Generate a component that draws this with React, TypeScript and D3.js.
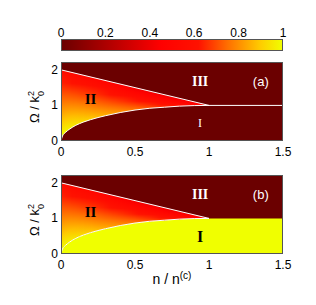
import React from 'react';
import * as d3 from 'd3';

// axis ticks
const nTicks = [0, 0.5, 1, 1.5];
const omegaTicks = [0, 1, 2];
const barTicks = [0, 0.2, 0.4, 0.6, 0.8, 1];

// boundary curves (n / n^(c), Omega / k0^2)
const lowerN = [0, 0.01, 0.03, 0.06, 0.1, 0.15, 0.2, 0.3, 0.4, 0.5, 0.6, 0.7, 0.8, 0.9, 1.0];
const lowerOmega = [0, 0.14, 0.24, 0.34, 0.44, 0.53, 0.6, 0.71, 0.8, 0.87, 0.92, 0.95, 0.98, 0.995, 1.0];
const upperN = [0, 1];
const upperOmega = [2, 1];
const flatN = [1, 1.5];
const flatOmega = [1, 1];

// shading of region II, read at its lower and upper edge
const shadeN = [0, 0.25, 0.5, 0.75, 1];
const shadeLow = [1, 0.88, 0.77, 0.64, 0.45];
const shadeHigh = [0.55, 0.5, 0.42, 0.38, 0.45];

// panels
const panelTags = ['(a)', '(b)'];
const regionIValue = [0, 1];

const W = 316;
const H = 305;
const left = 61;
const right = 283;
const panelTops = [62, 175];
const panelH = 79;

const cmap = d3
  .scaleLinear<string>()
  .domain([0, 0.45, 0.62, 0.75, 0.9, 1])
  .range(['#6b0000', '#ff0000', '#ff1200', '#ff6e00', '#ffcc00', '#f0ff00'])
  .clamp(true);

const sans = 'Liberation Sans, Arial, sans-serif';
const serif = 'Liberation Serif, Times New Roman, serif';

const x = d3.scaleLinear().domain([0, 1.5]).range([left, right]);
const lowerAt = d3.scaleLinear().domain(lowerN).range(lowerOmega);
const upperAt = d3.scaleLinear().domain(upperN).range(upperOmega);
const lowAt = d3.scaleLinear().domain(shadeN).range(shadeLow);
const highAt = d3.scaleLinear().domain(shadeN).range(shadeHigh);

const Panel = ({ idx }: { idx: number }) => {
  const top = panelTops[idx];
  const y = d3.scaleLinear().domain([0, 2.22]).range([top + panelH, top]);
  const pts = lowerN.map((n, i) => [n, lowerOmega[i]] as [number, number]);

  const line = d3
    .line<[number, number]>()
    .x((d) => x(d[0]))
    .y((d) => y(d[1]))
    .curve(d3.curveMonotoneX);

  // region II polygon: along upper line, back along lower curve
  const regionII =
    line(upperN.map((n, i) => [n, upperOmega[i]] as [number, number]))! +
    'L' +
    line(pts.slice().reverse())!.slice(1) +
    'Z';

  const regionI =
    line([...pts, ...flatN.slice(1).map((n, i) => [n, flatOmega[i + 1]] as [number, number])])! +
    `L${x(1.5)},${y(0)}L${x(0)},${y(0)}Z`;

  const x0 = x(0);
  const cols = d3.range(Math.ceil(x(1) - x0) + 1);
  const stops = [0, 0.2, 0.4, 0.6, 0.8, 1];
  const id = `p${idx}`;

  return (
    <g>
      <defs>
        <clipPath id={`${id}-clip2`}>
          <path d={regionII} />
        </clipPath>
        {cols.map((c) => {
          const n = Math.min(1, x.invert(x0 + c + 0.5));
          const yu = y(upperAt(n));
          let yl = y(lowerAt(n));
          if (yl - yu < 1) yl = yu + 1;
          const hi = highAt(n);
          const lo = lowAt(n);
          return (
            <linearGradient
              key={c}
              id={`${id}-g${c}`}
              gradientUnits="userSpaceOnUse"
              x1={0}
              x2={0}
              y1={yu}
              y2={yl}
            >
              {stops.map((t) => (
                <stop key={t} offset={t} stopColor={cmap(hi + (lo - hi) * t)} />
              ))}
            </linearGradient>
          );
        })}
      </defs>
      <rect x={left} y={top} width={right - left} height={panelH} fill={cmap(0)} />
      <path d={regionI} fill={cmap(regionIValue[idx])} />
      <g clipPath={`url(#${id}-clip2)`}>
        {cols.map((c) => (
          <rect
            key={c}
            x={x0 + c}
            y={y(2.05)}
            width={1.2}
            height={y(0) - y(2.05)}
            fill={`url(#${id}-g${c})`}
          />
        ))}
      </g>
      <path
        d={line(upperN.map((n, i) => [n, upperOmega[i]] as [number, number]))!}
        fill="none"
        stroke="#fff"
        strokeWidth={1}
      />
      <path d={line(pts)!} fill="none" stroke="#fff" strokeWidth={1} />
      {idx === 0 && (
        <path
          d={line(flatN.map((n, i) => [n, flatOmega[i]] as [number, number]))!}
          fill="none"
          stroke="#fff"
          strokeWidth={1}
        />
      )}
      <rect
        x={left + 0.5}
        y={top + 0.5}
        width={right - left - 1}
        height={panelH - 1}
        fill="none"
        stroke="#555"
        strokeWidth={1}
      />

      {/* region labels */}
      <text x={x(0.2)} y={y(1.17)} fontFamily={serif} fontWeight="bold" fontSize={15} textAnchor="middle" dominantBaseline="central" fill="#000">
        II
      </text>
      <text x={x(0.94)} y={y(1.67)} fontFamily={serif} fontWeight="bold" fontSize={14} textAnchor="middle" dominantBaseline="central" fill="#fff">
        III
      </text>
      {idx === 0 ? (
        <text x={x(0.94)} y={y(0.5)} fontFamily={serif} fontSize={12} textAnchor="middle" dominantBaseline="central" fill="#fff">
          I
        </text>
      ) : (
        <text x={x(0.94)} y={y(0.5)} fontFamily={serif} fontWeight="bold" fontSize={16} textAnchor="middle" dominantBaseline="central" fill="#000">
          I
        </text>
      )}
      <text x={x(1.35)} y={y(1.67)} fontFamily={sans} fontSize={13} textAnchor="middle" dominantBaseline="central" fill="#fff">
        {panelTags[idx]}
      </text>

      {/* ticks */}
      {nTicks.map((t) => (
        <text key={t} x={x(t)} y={top + panelH + 15} fontFamily={sans} fontSize={12} textAnchor="middle" fill="#000">
          {t}
        </text>
      ))}
      {omegaTicks.map((t) => (
        <text key={t} x={left - 3} y={y(t) + 4} fontFamily={sans} fontSize={12} textAnchor="end" fill="#000">
          {t}
        </text>
      ))}

      {/* y label */}
      <text
        transform={`translate(39,${top + 45}) rotate(-90)`}
        fontFamily={sans}
        fontSize={13}
        textAnchor="middle"
        fill="#000"
      >
        Ω / k
        <tspan fontSize={9} dy={-5}>2</tspan>
        <tspan fontSize={9} dx={-5} dy={10}>0</tspan>
      </text>
    </g>
  );
};

const App = () => {
  const bx = d3.scaleLinear().domain([0, 1]).range([left, right]);
  return (
    <svg
      width={W}
      height={H}
      style={{ position: 'absolute', left: 0, top: 0, background: '#fff' }}
    >
      <defs>
        <linearGradient id="cbar" x1="0" x2="1" y1="0" y2="0">
          {cmap.domain().map((v) => (
            <stop key={v} offset={v} stopColor={cmap(v)} />
          ))}
        </linearGradient>
      </defs>
      <rect x={left + 0.5} y={39.5} width={right - left - 1} height={11} fill="url(#cbar)" stroke="#555" strokeWidth={1} />
      {barTicks.map((t) => (
        <text key={t} x={bx(t)} y={37} fontFamily={sans} fontSize={12} textAnchor="middle" fill="#000">
          {t}
        </text>
      ))}

      {panelTags.map((_, i) => (
        <Panel key={i} idx={i} />
      ))}

      <text x={172} y={284} fontFamily={sans} fontSize={14} textAnchor="middle" fill="#000">
        n / n
        <tspan fontSize={10} dy={-5}>(c)</tspan>
      </text>
    </svg>
  );
};

export default App;
